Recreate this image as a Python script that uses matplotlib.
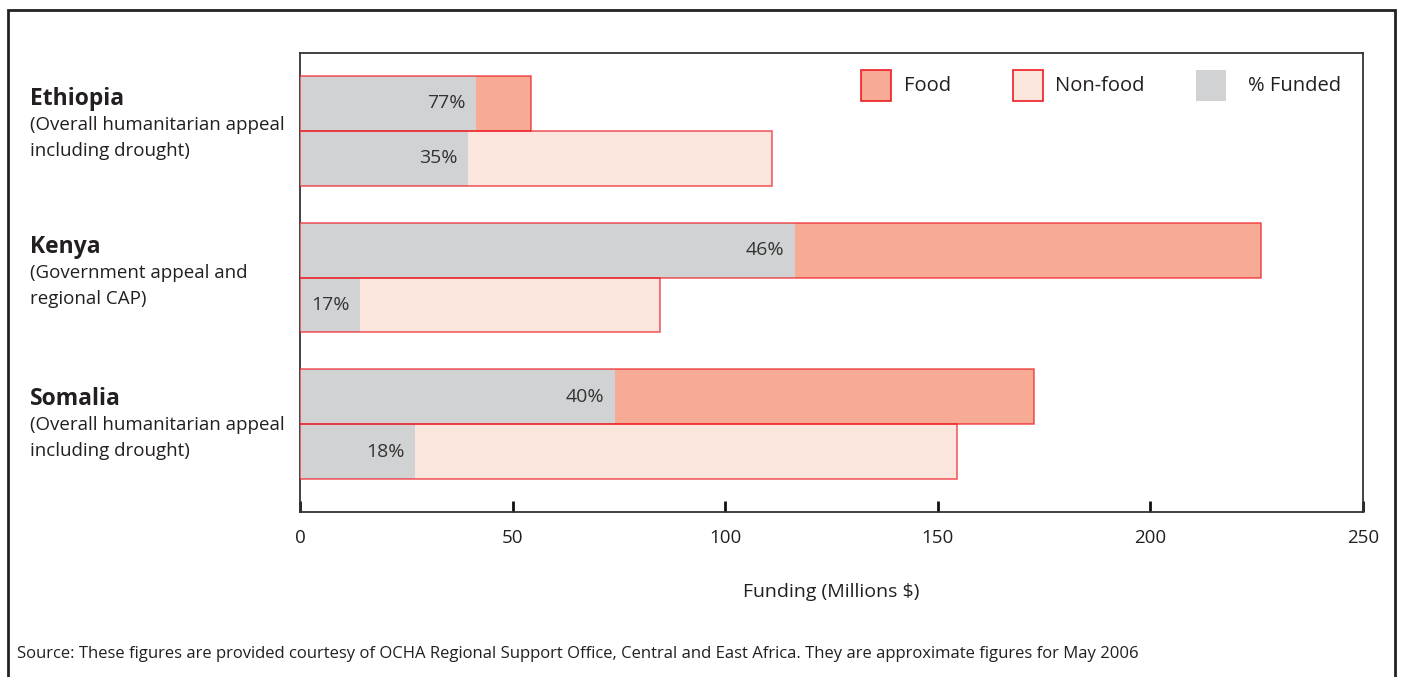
import matplotlib
matplotlib.use("Agg")
import matplotlib.pyplot as plt
from matplotlib.patches import Rectangle

plt.rcParams['font.family'] = ['Open Sans', 'DejaVu Sans']

# Data (millions $)
countries = ['Ethiopia', 'Kenya', 'Somalia']
subtitles = ['(Overall humanitarian appeal\nincluding drought)',
             '(Government appeal and\nregional CAP)',
             '(Overall humanitarian appeal\nincluding drought)']
food_total = [54.4, 226.1, 172.7]
food_funded = [41.4, 116.5, 74.1]
food_pct = ['77%', '46%', '40%']
nonfood_total = [111.1, 84.7, 154.6]
nonfood_funded = [39.5, 14.1, 27.1]
nonfood_pct = ['35%', '17%', '18%']
x_ticks = [0, 50, 100, 150, 200, 250]

FOOD = '#F7AB95'
NONFOOD = '#FBE6DE'
GREY = '#D1D2D4'
EDGE = '#ED1C24'
TEXT = '#231F20'

fig = plt.figure(figsize=(14.04, 6.77), dpi=100)
W, H = 1404, 677
ax = fig.add_axes([300 / W, 1 - 512 / H, 1063 / W, 459 / H])

h = 0.375
for i in range(len(countries)):
    rows = [(i - h / 2, food_total[i], food_funded[i], food_pct[i], FOOD),
            (i + h / 2, nonfood_total[i], nonfood_funded[i], nonfood_pct[i], NONFOOD)]
    for y, total, funded, pct, col in rows:
        ax.barh(y, total, height=h, color=col, edgecolor='none', zorder=2)
        ax.barh(y, funded, height=h, color=GREY, edgecolor='none', zorder=3)
        ax.barh(y, total, height=h, fill=False, edgecolor=EDGE, linewidth=1.1,
                alpha=0.75, zorder=4)
        ax.text(funded - 2.5, y, pct, ha='right', va='center', fontsize=14,
                color='#333333', zorder=5)

ax.set_xlim(0, 250)
ax.set_ylim(2.60, -0.532)
ax.set_xticks(x_ticks)
ax.set_yticks([])
ax.tick_params(axis='x', direction='in', length=8, width=2, color='#111111',
               labelsize=13.5, labelcolor=TEXT, pad=12)
for s in ax.spines.values():
    s.set_color('#333333')
    s.set_linewidth(1.3)
ax.set_xlabel('Funding (Millions $)', fontsize=14, color=TEXT, labelpad=26)

# country labels
label_y = [99, 247, 399]
for name, sub, yp in zip(countries, subtitles, label_y):
    fig.text(30 / W, 1 - yp / H, name, fontsize=16.5, fontweight='bold',
             color=TEXT, va='center', ha='left')
    fig.text(30 / W, 1 - (yp + 17) / H, sub, fontsize=13.5, color=TEXT,
             va='top', ha='left', linespacing=1.55)

# legend
legend_items = [('Food', FOOD, EDGE, 861, 904),
                ('Non-food', NONFOOD, EDGE, 1013, 1055),
                ('% Funded', GREY, 'none', 1196, 1248)]
for lab, fc, ec, px, tx in legend_items:
    fig.patches.append(Rectangle((px / W, 1 - 101 / H), 30 / W, 31 / H,
                                 transform=fig.transFigure, facecolor=fc,
                                 edgecolor=ec, linewidth=1.2))
    fig.text(tx / W, 1 - 86 / H, lab, fontsize=14.5, color=TEXT,
             va='center', ha='left')

fig.text(17 / W, 1 - 654 / H,
         'Source: These figures are provided courtesy of OCHA Regional Support '
         'Office, Central and East Africa. They are approximate figures for May 2006',
         fontsize=12, color=TEXT, va='center', ha='left')

# outer frame
fig.patches.append(Rectangle((8 / W, -0.05), 1387 / W, 1.05 - 10 / H,
                             transform=fig.transFigure, fill=False,
                             edgecolor='#222222', linewidth=2))

fig.savefig('out.png', dpi=100)
